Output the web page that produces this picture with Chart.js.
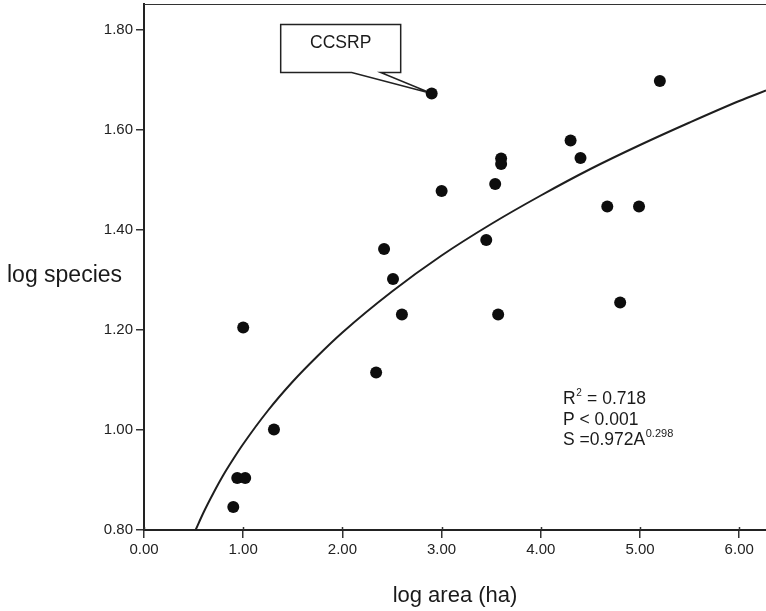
<!DOCTYPE html>
<html>
<head>
<meta charset="utf-8">
<script src="https://cdn.jsdelivr.net/npm/chart.js@4/dist/chart.umd.min.js"></script>
<style>
  html, body { margin: 0; padding: 0; background: #ffffff; }
  #wrap { width: 766px; height: 611px; }
</style>
</head>
<body>
<div id="wrap"><canvas id="c" width="766" height="611"></canvas></div>
<script>
// ---- data ----
const logArea = [0.90, 0.94, 1.02, 1.00, 1.31, 2.34, 2.42, 2.51, 2.60, 2.90, 3.00, 3.45, 3.54, 3.57, 3.60, 3.60, 4.30, 4.40, 4.67, 4.99, 4.80, 5.20];
const logSpecies = [0.846, 0.904, 0.904, 1.205, 1.001, 1.115, 1.362, 1.302, 1.231, 1.673, 1.478, 1.380, 1.492, 1.231, 1.543, 1.532, 1.579, 1.544, 1.447, 1.447, 1.255, 1.698];
const fitArea = [0.52, 0.6, 0.7, 0.8, 0.9, 1.0, 1.25, 1.5, 1.75, 2.0, 2.5, 3.0, 3.5, 4.0, 4.5, 5.0, 5.5, 6.0, 6.27];
const fitSpecies = [0.800, 0.835, 0.874, 0.910, 0.942, 0.972, 1.039, 1.097, 1.148, 1.195, 1.277, 1.349, 1.412, 1.469, 1.522, 1.570, 1.615, 1.658, 1.679];
const xTickValues = [0, 1, 2, 3, 4, 5, 6];
const yTickValues = [0.8, 1.0, 1.2, 1.4, 1.6, 1.8];
const xTitle = "log area (ha)";
const yTitle = "log species";
const calloutLabel = "CCSRP";
const calloutIndex = 9;
const statLines = ["R", "2", " = 0.718", "P < 0.001", "S =0.972A", "0.298"];

const FONT = '"Liberation Sans", Arial, Helvetica, sans-serif';

const overlay = {
  id: 'overlay',
  beforeDatasetsDraw(chart) {
    const ctx = chart.ctx;
    const xs = chart.scales.x, ys = chart.scales.y;
    const px = xs.getPixelForValue(logArea[calloutIndex]);
    const py = ys.getPixelForValue(logSpecies[calloutIndex]);
    const left = px - 151, right = px - 31, top = py - 69, bottom = py - 21;
    ctx.save();
    ctx.beginPath();
    ctx.moveTo(left, top);
    ctx.lineTo(right, top);
    ctx.lineTo(right, bottom);
    ctx.lineTo(px - 51, bottom);
    ctx.lineTo(px, py);
    ctx.lineTo(px - 80, bottom);
    ctx.lineTo(left, bottom);
    ctx.closePath();
    ctx.fillStyle = '#ffffff';
    ctx.fill();
    ctx.lineWidth = 1.5;
    ctx.strokeStyle = '#222';
    ctx.stroke();
    ctx.fillStyle = '#1a1a1a';
    ctx.font = '17.5px ' + FONT;
    ctx.textAlign = 'center';
    ctx.textBaseline = 'alphabetic';
    ctx.fillText(calloutLabel, (left + right) / 2, top + 23);
    ctx.restore();
  },
  afterDraw(chart) {
    const ctx = chart.ctx;
    const a = chart.chartArea;
    const xs = chart.scales.x;
    ctx.save();
    // top frame line
    ctx.strokeStyle = '#333';
    ctx.lineWidth = 1.2;
    ctx.beginPath();
    ctx.moveTo(a.left, a.top + 0.5);
    ctx.lineTo(a.right, a.top + 0.5);
    ctx.stroke();
    // small inner part of x ticks
    ctx.lineWidth = 1.5;
    xTickValues.forEach(v => {
      const x = Math.round(xs.getPixelForValue(v)) + 0.5;
      ctx.beginPath();
      ctx.moveTo(x, a.bottom - 3);
      ctx.lineTo(x, a.bottom);
      ctx.stroke();
    });
    // statistics text
    ctx.fillStyle = '#1a1a1a';
    ctx.textAlign = 'left';
    ctx.textBaseline = 'alphabetic';
    const tx = 563;
    ctx.font = '17.5px ' + FONT;
    ctx.fillText(statLines[0], tx, 404);
    const rw = ctx.measureText(statLines[0]).width;
    ctx.font = '10px ' + FONT;
    ctx.fillText(statLines[1], tx + rw + 0.5, 396);
    const sw = ctx.measureText(statLines[1]).width;
    ctx.font = '17.5px ' + FONT;
    ctx.fillText(statLines[2], tx + rw + sw + 1, 404);
    ctx.fillText(statLines[3], tx, 425);
    ctx.fillText(statLines[4], tx, 445);
    const bw = ctx.measureText(statLines[4]).width;
    ctx.font = '11px ' + FONT;
    ctx.fillText(statLines[5], tx + bw + 0.5, 437);
    // axis titles
    ctx.font = '23px ' + FONT;
    ctx.fillText(yTitle, 7, 282);
    ctx.font = '22px ' + FONT;
    ctx.textAlign = 'center';
    ctx.fillText(xTitle, (a.left + a.right) / 2, 602);
    ctx.restore();
  }
};

new Chart(document.getElementById('c'), {
  type: 'scatter',
  data: {
    datasets: [
      {
        label: 'fit',
        type: 'line',
        data: fitArea.map((v, i) => ({ x: v, y: fitSpecies[i] })),
        borderColor: '#1e1e1e',
        borderWidth: 2,
        pointRadius: 0,
        fill: false,
        cubicInterpolationMode: 'monotone',
        showLine: true
      },
      {
        label: 'sites',
        data: logArea.map((v, i) => ({ x: v, y: logSpecies[i] })),
        backgroundColor: '#0d0d0d',
        borderColor: '#0d0d0d',
        borderWidth: 0,
        pointRadius: 6,
        pointHoverRadius: 6
      }
    ]
  },
  options: {
    responsive: false,
    animation: false,
    devicePixelRatio: 1,
    layout: { autoPadding: false, padding: { top: 4, right: 0, left: 0, bottom: 0 } },
    plugins: { legend: { display: false }, tooltip: { enabled: false }, title: { display: false } },
    scales: {
      x: {
        type: 'linear',
        min: 0,
        max: 6.27,
        afterBuildTicks: s => { s.ticks = xTickValues.map(v => ({ value: v })); },
        afterFit: s => { s.height = 81; s.paddingLeft = 0; s.paddingRight = 0; },
        ticks: {
          callback: v => Number(v).toFixed(2),
          font: { family: FONT, size: 15 },
          color: '#222',
          padding: 3,
          maxRotation: 0,
          autoSkip: false
        },
        grid: { display: true, drawOnChartArea: false, drawTicks: true, tickLength: 8, color: '#333', lineWidth: 1.5 },
        border: { display: true, color: '#222', width: 2 }
      },
      y: {
        type: 'linear',
        min: 0.8,
        max: 1.852,
        afterBuildTicks: s => { s.ticks = yTickValues.map(v => ({ value: v })); },
        afterFit: s => { s.width = 144; s.paddingTop = 0; s.paddingBottom = 0; },
        ticks: {
          callback: v => Number(v).toFixed(2),
          font: { family: FONT, size: 15 },
          color: '#222',
          padding: 3,
          autoSkip: false
        },
        grid: { display: true, drawOnChartArea: false, drawTicks: true, tickLength: 8, color: '#333', lineWidth: 1.5 },
        border: { display: true, color: '#222', width: 2 }
      }
    }
  },
  plugins: [overlay]
});
</script>
</body>
</html>
